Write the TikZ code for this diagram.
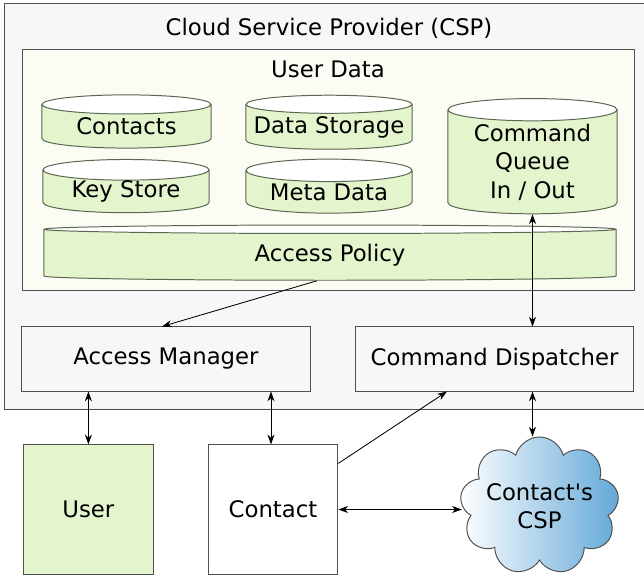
\documentclass[tikz,border=0pt]{standalone}
\usepackage{fontspec}
\setmainfont{DejaVu Sans}
\usetikzlibrary{arrows.meta,positioning,shapes.geometric,shapes.symbols}

\definecolor{cspfill}{HTML}{F7F7F7}
\definecolor{datafill}{HTML}{FBFCF4}
\definecolor{dbgreen}{HTML}{E4F5CE}
\definecolor{dbline}{HTML}{5A6650}
\definecolor{cloudblue}{HTML}{62A8D8}
\definecolor{frame}{HTML}{505050}

\begin{document}
\begin{tikzpicture}[
  x=0.025cm, y=-0.025cm,
  font=\fontsize{16.2}{20.3}\selectfont,
  area/.style={draw=frame, line width=0.7pt, inner sep=0pt},
  db/.style={cylinder, shape border rotate=90, draw=dbline, line width=0.7pt,
    cylinder uses custom fill, cylinder body fill=dbgreen, cylinder end fill=white,
    align=center, inner sep=0pt},
  blk/.style={draw=frame, line width=0.7pt, minimum width=7.2cm, minimum height=1.6cm},
  tall/.style={draw=frame, line width=0.7pt, minimum width=3.24cm, minimum height=3.23cm},
  arr/.style={-{Stealth[length=7pt, width=5pt]}, line width=0.6pt},
  darr/.style={{Stealth[length=7pt, width=5pt]}-{Stealth[length=7pt, width=5pt]}, line width=0.6pt}
]
\useasboundingbox (0,0) rectangle (644,576);

% provider and its data
\node[area, fill=cspfill, minimum width=16.25cm, minimum height=10.125cm] (csp) at (330,206.5) {};
\node (csptitle) at (329,28) {Cloud Service Provider (CSP)};
\node[area, fill=datafill, minimum width=15.275cm, minimum height=6cm] (udata) at (328.5,170) {};
\node (udatatitle) at (328,69) {User Data};

\node[db, minimum width=4.225cm, minimum height=1.33cm, aspect=0.19] (contacts) at (126.5,126.5) {Contacts};
\node[db, minimum width=4.15cm, minimum height=1.35cm, aspect=0.12] (store) at (329,127) {Data Storage};
\node[db, minimum width=4.15cm, minimum height=1.33cm, aspect=0.19] (keys) at (126,191.5) {Key Store};
\node[db, minimum width=4.15cm, minimum height=1.35cm, aspect=0.19] (meta) at (329,192) {Meta Data};
\node[db, minimum width=4.225cm, minimum height=2.88cm, aspect=0.19] (queue) at (532.5,162) {Command\\Queue\\In / Out};
\node[db, minimum width=14.3cm, minimum height=1.38cm, aspect=0.056] (policy) at (330,255) {Access Policy};

% services
\node[blk, fill=cspfill] (am) at (166,359) {Access Manager};
\node[blk, fill=cspfill, minimum width=6.95cm] (cd) at (494.6,359) {Command Dispatcher};

% outside parties
\node[tall, fill=dbgreen] (user) at (88.4,509.5) {User};
\node[tall, fill=white] (contact) at (273,509.5) {Contact};
\node[cloud, cloud puffs=9, cloud ignores aspect, draw=frame, line width=0.7pt, left color=white,
  right color=cloudblue, minimum width=3.975cm, minimum height=3.45cm,
  inner sep=0pt] (ccsp) at (539.5,506) {};
\node[align=center] (ccsptext) at (ccsp.center) {Contact\textquotesingle s\\CSP};

\draw[arr] ([xshift=-0.325cm]policy.south) -- ([xshift=-0.1cm]am.north);
\draw[darr] (queue.south) -- (queue.south |- cd.north);
\draw[darr] (user.north |- am.south) -- (user.north);
\draw[darr] ([xshift=-0.05cm]contact.north |- am.south) -- ([xshift=-0.05cm]contact.north);
\draw[arr] ([yshift=-0.475cm]contact.north east) -- ([xshift=-1.19cm]cd.south);
\draw[darr] (queue.south |- cd.south) -- (queue.south |- ccsp.north);
\draw[darr] (contact.east) -- (contact.east -| ccsp.west);
\end{tikzpicture}
\end{document}
